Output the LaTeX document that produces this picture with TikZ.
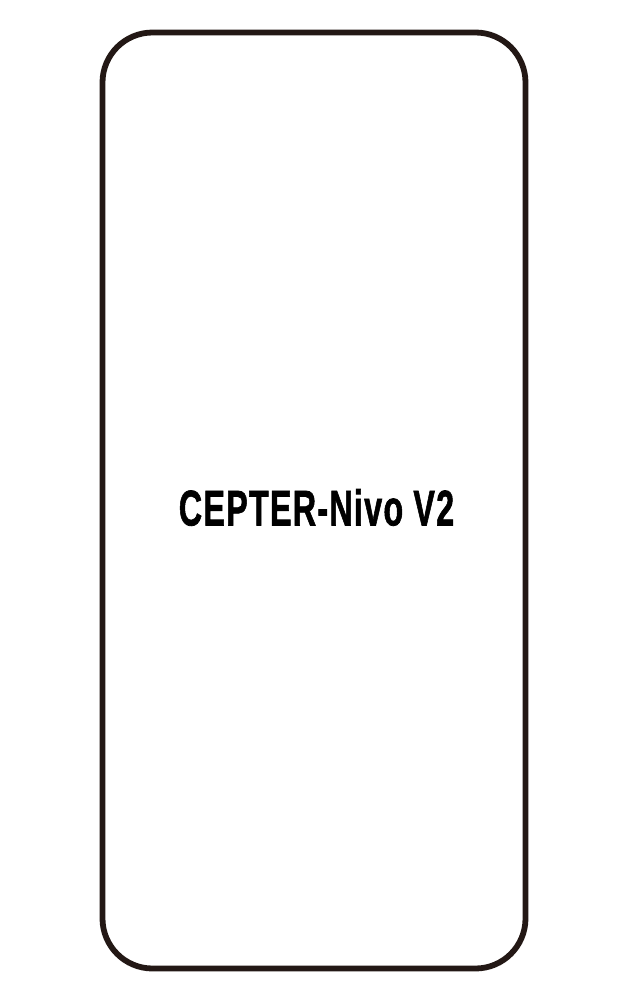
\documentclass[tikz,border=0pt]{standalone}
\usepackage{fontspec}
\setmainfont{Liberation Sans}
\newfontfamily\modelFont[FakeBold=1.6,LetterSpace=4]{Liberation Sans Bold}
\usepackage{xcolor}
\definecolor{outlineInk}{HTML}{231815}

\begin{document}
\begin{tikzpicture}[
  x=1pt,y=-1pt,
  screenOutline/.style={draw=outlineInk,line width=5.8pt,rounded corners=50pt},
  modelLabel/.style={inner sep=0pt,text=black,font=\fontsize{50}{50}\selectfont\modelFont,xscale=0.645,anchor=center}]

  % page size
  \useasboundingbox (0,0) rectangle (630,999);

  % screen outline
  \draw [screenOutline] (102.5,32.5) rectangle (525.5,968.5);

  % model name
  \node[modelLabel] (lModel) at (316.5,507.5) {CEPTER-Nivo V2};
\end{tikzpicture}
\end{document}
